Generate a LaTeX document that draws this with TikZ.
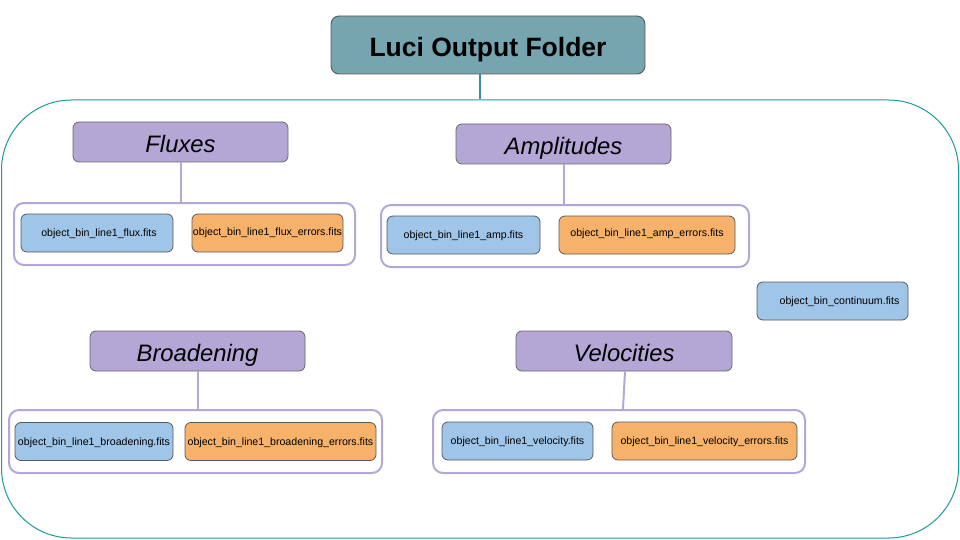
\documentclass[tikz,border=0pt]{standalone}
\usepackage{fontspec}
\setmainfont{Liberation Sans}
\begin{document}
\begin{tikzpicture}[x=1pt,y=-1pt,
  titlebox/.style={draw=black!65, fill=titlefill, rounded corners=8pt, line width=0.9pt,
    minimum width=314pt, minimum height=58pt, inner sep=0pt, text height=23pt, text depth=0pt,
    font=\fontsize{26.5}{30}\selectfont\bfseries},
  catbox/.style={draw=black!60, fill=catfill, rounded corners=6pt, line width=0.8pt,
    minimum width=215pt, minimum height=40pt, inner sep=0pt, text height=21pt, text depth=0pt,
    font=\fontsize{23.8}{28}\selectfont\itshape},
  grpbox/.style={draw=catfill, rounded corners=10pt, line width=2pt, inner sep=0pt},
  filebox/.style={draw=black!65, rounded corners=6pt, line width=0.8pt,
    minimum height=38pt, inner sep=0pt, text height=7.6pt, text depth=0pt,
    font=\fontsize{10.6}{12}\selectfont},
  bluefile/.style={filebox, fill=bluefill},
  orangefile/.style={filebox, fill=orangefill},
  catlink/.style={draw=catfill, line width=2pt},
]
\definecolor{titlefill}{HTML}{76A5AF}
\definecolor{catfill}{HTML}{B4A7D6}
\definecolor{bluefill}{HTML}{9FC5E8}
\definecolor{orangefill}{HTML}{F6B26B}
\definecolor{outerteal}{HTML}{1B98A0}

\useasboundingbox (0,0) rectangle (960,540);

% outer container
\node[draw=outerteal, line width=1pt, rounded corners=70pt, minimum width=957pt,
  minimum height=438pt, inner sep=0pt] (outer) at (480,319) {};

% title
\node[titlebox] (title) at (488,45) {Luci Output Folder};
\draw[draw=outerteal!70!gray, line width=1.2pt] (outer.north) -- (outer.north |- title.south);

% Fluxes
\node[catbox] (flux) at (180.5,142) {Fluxes};
\node[grpbox, minimum width=341pt, minimum height=62pt] (fluxgrp) at (184.5,234) {};
\node[bluefile, minimum width=152pt] (fluxf) at (97,233) {\hspace{4pt}object\_bin\_line1\_flux.fits};
\node[orangefile, minimum width=151pt] (fluxe) at (267.5,233) {\raisebox{1pt}{object\_bin\_line1\_flux\_errors.fits}};
\draw[catlink] (flux.south) -- (flux.south |- fluxgrp.north);

% Amplitudes
\node[catbox] (amp) at (563.5,144) {Amplitudes};
\node[grpbox, minimum width=368pt, minimum height=62pt] (ampgrp) at (565,236) {};
\node[bluefile, minimum width=153pt] (ampf) at (463.5,235) {object\_bin\_line1\_amp.fits\hspace{14pt}};
\node[orangefile, minimum width=176pt] (ampe) at (647,235) {\raisebox{2pt}{object\_bin\_line1\_amp\_errors.fits}};
\draw[catlink] (amp.south) -- (amp.south |- ampgrp.north);

% continuum
\node[bluefile, minimum width=151pt] (cont) at (832.5,301) {\hspace{14pt}object\_bin\_continuum.fits};

% Broadening
\node[catbox] (broad) at (197.5,351) {Broadening};
\node[grpbox, minimum width=373pt, minimum height=63pt] (broadgrp) at (195.5,441.5) {};
\node[bluefile, minimum width=158pt] (broadf) at (94,441.5) {object\_bin\_line1\_broadening.fits};
\node[orangefile, minimum width=191pt] (broade) at (280.5,441.5) {object\_bin\_line1\_broadening\_errors.fits};
\draw[catlink] (broad.south) -- (broad.south |- broadgrp.north);

% Velocities
\node[catbox, minimum width=216pt] (vel) at (624,351) {Velocities};
\node[grpbox, minimum width=372pt, minimum height=63pt] (velgrp) at (619,441.5) {};
\node[bluefile, minimum width=151pt] (velf) at (517.5,441) {object\_bin\_line1\_velocity.fits};
\node[orangefile, minimum width=185pt] (vele) at (704.5,441) {object\_bin\_line1\_velocity\_errors.fits};
\draw[catlink] ([xshift=1pt]vel.south) -- ([xshift=-1pt]vel.south |- velgrp.north);
\end{tikzpicture}
\end{document}
